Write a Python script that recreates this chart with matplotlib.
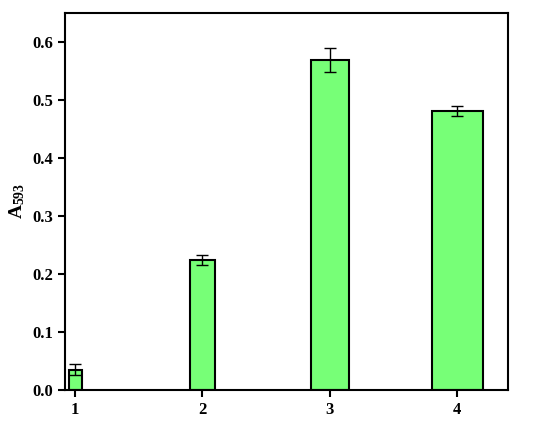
import matplotlib
matplotlib.use("Agg")
import matplotlib.pyplot as plt

categories = [1, 2, 3, 4]
values = [0.035, 0.224, 0.569, 0.481]
errors = [0.009, 0.008, 0.020, 0.008]
widths = [0.1, 0.2, 0.3, 0.4]
tick_labels = ["1", "2", "3", "4"]
yticks = [0.0, 0.1, 0.2, 0.3, 0.4, 0.5, 0.6]

plt.rcParams['font.family'] = ['Liberation Serif', 'DejaVu Serif']
plt.rcParams['font.weight'] = 'bold'
plt.rcParams['mathtext.fontset'] = 'custom'
plt.rcParams['mathtext.rm'] = 'Liberation Serif:bold'
plt.rcParams['mathtext.bf'] = 'Liberation Serif:bold'
plt.rcParams['mathtext.it'] = 'Liberation Serif:bold'

fig = plt.figure(figsize=(5.5, 4.23), dpi=100)
ax = fig.add_axes([65/550, 1 - 390/423, (508-65)/550, (390-13)/423])

ax.bar(categories, values, width=widths, color='#77FF77', edgecolor='black', linewidth=1.5,
       yerr=errors, error_kw=dict(ecolor='black', elinewidth=1.0, capsize=4, capthick=1.0), zorder=2)

ax.set_xlim(0.92, 4.40)
ax.set_ylim(0, 0.65)
ax.set_xticks(categories)
ax.set_xticklabels(tick_labels)
ax.set_yticks(yticks)
ax.set_yticklabels([f"{v:.1f}" for v in yticks])
ax.tick_params(direction='out', length=5, width=1.5, labelsize=12, top=False, right=False)
for lab in ax.get_xticklabels() + ax.get_yticklabels():
    lab.set_fontweight('bold')
for s in ax.spines.values():
    s.set_linewidth(1.5)
ax.set_ylabel(r"A$_{\mathrm{593}}$", fontsize=14, fontweight='bold', labelpad=4)

fig.savefig("out.png", dpi=100)
